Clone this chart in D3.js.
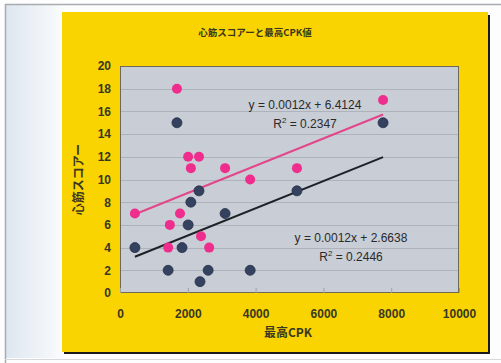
<!DOCTYPE html>
<html>
<head>
<meta charset="utf-8">
<script src="https://cdn.jsdelivr.net/npm/d3@7"></script>
<style>
  html, body { margin: 0; padding: 0; background: #ffffff; }
  svg { display: block; }
</style>
</head>
<body>
<svg id="chart" width="501" height="363"></svg>
<script>
// Peak CPK vs. myocardial score, two groups, each with a linear trendline
const chartTitle = "心筋スコアーと最高CPK値";
const xTitle = "最高CPK";
const yTitle = "心筋スコアー";

const xTicks = [0, 2000, 4000, 6000, 8000, 10000];
const yTicks = [0, 2, 4, 6, 8, 10, 12, 14, 16, 18, 20];

// Pink group
const pinkCPK   = [440, 1420, 1470, 1680, 1770, 2010, 2090, 2330, 2390, 2630, 3100, 3840, 5220, 7760];
const pinkScore = [7,   4,    6,    18,   7,    12,   11,   12,   5,    4,    11,   10,   11,   17];

// Navy group
const navyCPK   = [440, 1420, 1680, 1830, 2010, 2090, 2330, 2360, 2600, 3100, 3840, 5220, 7760];
const navyScore = [4,   2,    15,   4,    6,    8,    9,    1,    2,    7,    2,    9,    15];

// Trendline equations (slope, intercept) and their printed labels
const pinkTrend = [0.0012, 6.4124];
const navyTrend = [0.0012, 2.6638];
const pinkEqText = "y = 0.0012x + 6.4124";
const pinkR2Text = "0.2347";
const navyEqText = "y = 0.0012x + 2.6638";
const navyR2Text = "0.2446";

const W = 501, H = 363;
const plot = { left: 120, top: 66, right: 459, bottom: 293 };

const svg = d3.select("#chart");
const defs = svg.append("defs");

// page background: soft bluish wash on the left margin
const wash = defs.append("linearGradient").attr("id", "wash").attr("x1", 0).attr("x2", 1);
wash.append("stop").attr("offset", 0).attr("stop-color", "#dde6ef");
wash.append("stop").attr("offset", 1).attr("stop-color", "#fbfcfd");

svg.append("rect").attr("x", 0).attr("y", 0).attr("width", W).attr("height", H).attr("fill", "#fdfdfd");
svg.append("rect").attr("x", 6).attr("y", 5).attr("width", 58).attr("height", 353).attr("fill", "url(#wash)");
// outer frame
svg.append("path")
  .attr("d", `M5.5,${H} V4.5 H${W}`)
  .attr("fill", "none").attr("stroke", "#a9abae").attr("stroke-width", 1.5);
svg.append("line").attr("x1", 5).attr("x2", W).attr("y1", 359.5).attr("y2", 359.5)
  .attr("stroke", "#d6d8da").attr("stroke-width", 1);

// chart card with a drop shadow on right/bottom
svg.append("rect").attr("x", 64).attr("y", 15).attr("width", 426).attr("height", 339).attr("fill", "#1a1a1a");
svg.append("rect").attr("x", 62).attr("y", 12).attr("width", 426).attr("height", 340).attr("fill", "#f9d400");

// plot background
svg.append("rect")
  .attr("x", plot.left).attr("y", plot.top)
  .attr("width", plot.right - plot.left).attr("height", plot.bottom - plot.top)
  .attr("fill", "#c8cdd6");

const x = d3.scaleLinear().domain([0, 10000]).range([plot.left, plot.right]);
const y = d3.scaleLinear().domain([0, 20]).range([plot.bottom, plot.top]);

// horizontal gridlines
svg.append("g").selectAll("line").data(yTicks.slice(1, -1)).join("line")
  .attr("x1", plot.left).attr("x2", plot.right)
  .attr("y1", d => Math.round(y(d)) + 0.5).attr("y2", d => Math.round(y(d)) + 0.5)
  .attr("stroke", "#aeb3bb").attr("stroke-width", 1);

// plot border
svg.append("rect")
  .attr("x", plot.left + 0.5).attr("y", plot.top + 0.5)
  .attr("width", plot.right - plot.left - 1).attr("height", plot.bottom - plot.top - 1)
  .attr("fill", "none").attr("stroke", "#6e6a55").attr("stroke-width", 1);

const tickFont = "'Liberation Sans', Arial, sans-serif";
const cjkFont = "'Noto Sans CJK JP', 'Liberation Sans', sans-serif";

// x axis (labels below, short inward tick marks)
const xAxis = d3.axisBottom(x).tickValues(xTicks).tickSize(-5).tickPadding(16).tickFormat(d3.format("d"));
const gx = svg.append("g").attr("transform", `translate(0,${plot.bottom})`).call(xAxis);
gx.select(".domain").remove();
gx.selectAll(".tick line").attr("stroke", "#9da1a8");
gx.selectAll(".tick text")
  .attr("fill", "#3a3820").attr("font-family", tickFont).attr("font-size", 12).attr("font-weight", "bold");

// y axis
const yAxis = d3.axisLeft(y).tickValues(yTicks).tickSize(0).tickPadding(9).tickFormat(d3.format("d"));
const gy = svg.append("g").attr("transform", `translate(${plot.left},0)`).call(yAxis);
gy.select(".domain").remove();
gy.selectAll(".tick text")
  .attr("fill", "#3a3820").attr("font-family", tickFont).attr("font-size", 12).attr("font-weight", "bold");

// trendlines, spanning each group's CPK range
const line = d3.line().x(d => x(d[0])).y(d => y(d[1]));
function trend(xs, coef) {
  const [lo, hi] = d3.extent(xs);
  return [[lo, coef[0] * lo + coef[1]], [hi, coef[0] * hi + coef[1]]];
}
svg.append("path").attr("d", line(trend(pinkCPK, pinkTrend)))
  .attr("fill", "none").attr("stroke", "#e3468a").attr("stroke-width", 2);
svg.append("path").attr("d", line(trend(navyCPK, navyTrend)))
  .attr("fill", "none").attr("stroke", "#1e2226").attr("stroke-width", 2);

// markers
const navyPts = navyCPK.map((v, i) => [v, navyScore[i]]);
const pinkPts = pinkCPK.map((v, i) => [v, pinkScore[i]]);
svg.append("g").selectAll("circle").data(navyPts).join("circle")
  .attr("cx", d => x(d[0])).attr("cy", d => y(d[1])).attr("r", 5)
  .attr("fill", "#34415f").attr("stroke", "#263049").attr("stroke-width", 0.8);
svg.append("g").selectAll("circle").data(pinkPts).join("circle")
  .attr("cx", d => x(d[0])).attr("cy", d => y(d[1])).attr("r", 5)
  .attr("fill", "#ef2d8c");

// trendline labels
function eqLabel(cx, cy, eq, r2) {
  const g = svg.append("g").attr("font-family", tickFont).attr("font-size", 12).attr("fill", "#2a2a2a");
  g.append("text").attr("x", cx).attr("y", cy).attr("text-anchor", "middle").text(eq);
  const t = g.append("text").attr("x", cx).attr("y", cy + 19).attr("text-anchor", "middle");
  t.append("tspan").text("R");
  t.append("tspan").attr("font-size", 8).attr("dy", -5).text("2");
  t.append("tspan").attr("dy", 5).text(" = " + r2);
}
eqLabel(305, 109, pinkEqText, pinkR2Text);
eqLabel(351, 242, navyEqText, navyR2Text);

// titles
svg.append("text").attr("x", 255).attr("y", 36).attr("text-anchor", "middle")
  .attr("font-family", cjkFont).attr("font-size", 9.5).attr("font-weight", "bold").attr("fill", "#3a3820")
  .text(chartTitle);
svg.append("text").attr("x", 288).attr("y", 337).attr("text-anchor", "middle")
  .attr("font-family", cjkFont).attr("font-size", 12).attr("font-weight", "bold").attr("fill", "#3a3820")
  .text(xTitle);
svg.append("text").attr("transform", `translate(83,${(plot.top + plot.bottom) / 2}) rotate(-90)`)
  .attr("text-anchor", "middle")
  .attr("font-family", cjkFont).attr("font-size", 12).attr("font-weight", "bold").attr("fill", "#3a3820")
  .text(yTitle);
</script>
</body>
</html>
